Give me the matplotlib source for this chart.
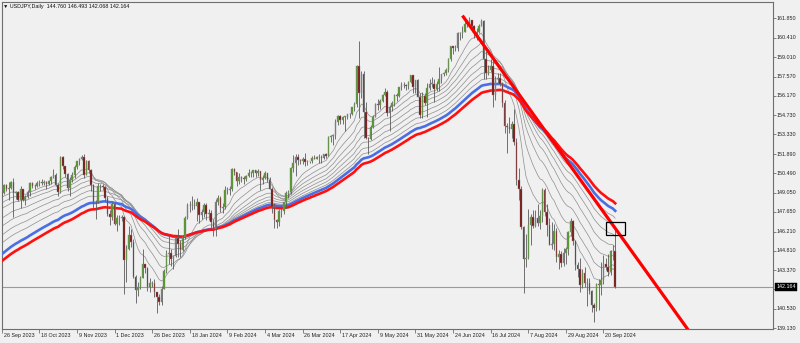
import numpy as np
import pandas as pd
import matplotlib
matplotlib.use("Agg")
import matplotlib.pyplot as plt
from matplotlib.patches import Rectangle

plt.rcParams['font.family'] = ['Liberation Sans', 'DejaVu Sans']

# ---------------- data: USDJPY daily, 26 Sep 2023 .. 27 Sep 2024 ----------------
opens = [
    148.87, 149.05, 149.64, 149.32,
    149.37, 149.86, 149.02, 149.13, 148.50,
    149.32, 148.52, 148.76, 149.12, 149.80,
    149.57, 149.53, 149.79, 149.87, 149.80,
    149.86, 149.70, 149.91, 150.21, 150.37,
    149.63, 149.09, 151.68, 150.98, 150.42,
    149.39, 149.97, 150.38, 150.96, 151.38,
    151.52, 151.65, 150.39, 151.38, 150.74,
    149.60, 148.35, 148.39, 149.55, 149.53,
    149.44, 148.67, 147.49, 147.24, 148.20,
    146.79, 147.20, 147.18, 147.28, 144.11,
    144.95, 145.96, 145.44, 142.89, 141.94,
    142.15, 142.82, 143.80, 143.53, 142.11,
    142.40, 142.44, 141.78, 141.39,
    141.02, 142.00, 143.30, 144.58,
    144.64, 144.20, 144.43, 145.71, 145.29,
    144.88, 145.80, 147.20, 148.16, 148.12,
    148.15, 148.11, 148.36, 147.45, 147.62,
    148.14, 147.49, 147.59, 146.92, 146.42,
    148.37, 148.68, 147.94, 147.99, 149.28,
    149.28, 149.35, 150.80, 150.55, 149.93,
    150.19, 150.15, 150.03, 150.29, 150.49,
    150.51, 150.69, 150.51, 150.66, 149.98,
    150.11, 150.52, 150.00, 149.36, 147.98,
    147.06, 146.93, 147.68, 147.75, 148.36,
    149.03, 149.14, 150.87, 151.25, 151.65,
    151.42, 151.40, 151.54, 151.33, 151.36,
    151.35, 151.63, 151.56, 151.68, 151.66,
    151.61, 151.86, 151.78, 153.16, 153.24,
    153.28, 154.26, 154.71, 154.38, 154.62,
    154.64, 154.81, 154.84, 155.33, 155.60,
    158.33, 156.36, 157.79, 155.00, 153.05,
    152.97, 153.88, 154.63, 155.58, 155.49,
    155.75, 156.21, 156.43, 154.87, 155.38,
    155.66, 156.24, 156.18, 156.78, 156.95,
    156.99, 156.88, 157.16, 157.66, 156.79,
    157.30, 156.10, 154.77, 156.13, 155.63,
    156.73, 157.05, 157.05, 156.66, 157.05,
    157.39, 157.73, 157.85, 158.09, 158.89,
    159.80, 159.69, 159.64, 160.74, 160.78,
    160.87, 161.47, 161.45, 161.73, 161.28,
    160.75, 160.82, 161.32, 161.64, 158.85,
    157.84, 158.05, 158.35, 156.21, 157.37,
    157.48, 157.02, 155.65, 153.92, 153.89,
    153.75, 154.08, 152.74, 149.98, 149.35,
    146.53, 144.18, 144.29, 146.72, 147.28,
    146.61, 147.19, 146.83, 147.32, 149.29,
    147.61, 146.66, 145.24, 145.26, 146.27,
    144.35, 144.54, 143.89, 144.61, 144.96,
    146.17, 146.95, 145.48, 143.72, 143.45,
    142.28, 143.16, 142.42, 142.43, 141.84,
    140.83, 140.62, 142.36, 142.29, 142.62,
    143.86, 143.58, 143.21, 144.78, 144.76,
]
highs = [
    149.18, 149.71, 149.71, 149.81,
    149.91, 150.16, 149.20, 149.19, 149.53,
    149.35, 148.90, 149.24, 149.83, 149.84,
    149.68, 149.89, 149.98, 150.07, 150.02,
    149.93, 150.00, 150.27, 150.78, 150.47,
    149.76, 151.72, 151.72, 151.05, 150.50,
    150.18, 150.55, 151.06, 151.40, 151.58,
    151.80, 151.92, 151.43, 151.44, 150.78,
    149.66, 148.51, 149.75, 149.68, 149.72,
    149.58, 148.83, 147.80, 148.34, 148.27,
    147.44, 147.43, 147.41, 147.32, 145.21,
    146.59, 146.43, 145.64, 143.00, 142.52,
    142.97, 144.96, 143.83, 143.58, 142.77,
    142.56, 142.76, 141.78, 141.61,
    142.21, 143.43, 144.83, 145.98,
    144.91, 144.46, 145.79, 146.41, 145.58,
    145.87, 147.34, 148.28, 148.48, 148.81,
    148.58, 148.70, 148.40, 147.85, 148.27,
    148.31, 147.85, 147.81, 147.11, 148.58,
    148.89, 148.80, 148.32, 149.58, 149.48,
    149.55, 150.89, 150.89, 150.59, 150.49,
    150.29, 150.28, 150.35, 150.77, 150.63,
    150.74, 150.72, 150.83, 150.66, 150.37,
    150.68, 150.53, 150.19, 149.44, 148.28,
    147.15, 147.89, 147.95, 148.37, 149.16,
    149.24, 150.95, 151.82, 151.86, 151.86,
    151.51, 151.66, 151.97, 151.44, 151.41,
    151.75, 151.79, 151.75, 151.90, 151.82,
    151.92, 151.94, 153.24, 153.32, 153.39,
    154.45, 154.79, 154.77, 154.72, 154.66,
    154.86, 154.88, 155.37, 155.74, 158.44,
    160.21, 157.99, 157.99, 155.70, 153.13,
    154.00, 154.74, 155.66, 155.95, 155.94,
    156.28, 156.74, 156.57, 155.46, 155.80,
    156.30, 156.39, 156.82, 157.20, 157.19,
    157.03, 157.24, 157.71, 157.68, 157.30,
    157.37, 156.40, 156.44, 156.36, 157.13,
    157.38, 157.51, 157.41, 157.24, 158.26,
    157.78, 157.93, 158.23, 158.94, 159.82,
    159.85, 159.86, 160.87, 160.87, 161.27,
    161.72, 161.75, 161.95, 161.76, 161.34,
    161.14, 161.44, 161.80, 161.76, 159.44,
    158.42, 158.87, 158.86, 157.65, 157.86,
    157.81, 157.15, 155.83, 154.16, 154.62,
    154.30, 155.22, 153.09, 150.89, 149.57,
    146.60, 145.99, 147.88, 147.51, 147.80,
    147.77, 148.22, 147.76, 149.39, 149.42,
    148.22, 147.23, 146.89, 146.76, 146.49,
    144.82, 144.81, 144.98, 145.07, 146.24,
    147.21, 147.05, 145.60, 144.00, 144.26,
    143.48, 143.57, 142.77, 142.83, 141.95,
    140.96, 142.45, 142.72, 143.95, 144.49,
    144.25, 144.54, 144.83, 145.21, 146.493,
]
lows = [
    148.80, 148.97, 149.18, 148.52,
    149.34, 147.31, 148.60, 148.45, 147.92,
    148.46, 148.16, 148.70, 148.85, 149.39,
    149.32, 149.46, 149.52, 149.63, 149.60,
    149.33, 149.60, 149.73, 150.10, 149.52,
    148.81, 149.02, 150.76, 150.21, 149.20,
    148.83, 149.86, 150.16, 150.82, 151.06,
    151.43, 150.16, 150.34, 150.53, 149.19,
    147.93, 147.15, 148.32, 149.17, 149.22,
    148.46, 147.38, 146.67, 147.09, 146.67,
    146.23, 146.68, 146.98, 141.64, 142.53,
    144.85, 145.08, 142.78, 140.97, 141.48,
    141.99, 142.77, 143.13, 141.87, 141.77,
    142.17, 141.38, 140.25, 140.84,
    140.80, 141.98, 143.19, 143.81,
    143.67, 143.44, 144.37, 144.36, 144.35,
    144.78, 145.69, 147.10, 147.64, 147.79,
    147.88, 146.98, 146.81, 147.12, 147.31,
    147.06, 147.02, 146.43, 145.90, 145.89,
    148.12, 147.63, 147.56, 147.87, 148.93,
    148.90, 149.21, 150.35, 149.56, 149.67,
    149.84, 149.69, 149.89, 150.22, 150.18,
    150.23, 150.19, 150.25, 149.22, 149.70,
    150.06, 149.82, 149.33, 147.60, 146.48,
    146.50, 146.62, 147.30, 147.53, 147.97,
    148.69, 148.97, 150.57, 150.26, 151.09,
    151.14, 151.19, 151.03, 151.08, 151.25,
    151.23, 151.52, 151.51, 151.26, 151.22,
    151.54, 151.60, 151.72, 152.76, 152.59,
    153.02, 154.06, 154.12, 154.13, 153.60,
    154.50, 154.55, 154.78, 155.07, 155.36,
    154.54, 156.02, 153.04, 152.99, 151.86,
    152.91, 153.82, 154.59, 155.12, 155.23,
    155.72, 156.14, 154.70, 153.60, 155.08,
    155.45, 155.81, 156.06, 156.61, 156.76,
    156.60, 156.70, 157.08, 156.37, 156.39,
    156.06, 154.55, 154.53, 155.47, 154.59,
    156.58, 156.81, 155.72, 156.55, 156.53,
    157.11, 157.59, 157.70, 157.89, 158.70,
    159.23, 159.46, 159.47, 160.28, 160.40,
    160.82, 161.22, 161.29, 161.06, 160.43,
    160.26, 160.75, 161.30, 157.43, 157.38,
    157.67, 157.93, 155.38, 155.83, 157.07,
    156.86, 155.36, 153.46, 151.94, 153.44,
    153.09, 152.58, 149.64, 148.51, 146.43,
    141.68, 143.62, 144.17, 145.21, 146.45,
    146.52, 146.61, 146.41, 146.89, 147.37,
    145.86, 145.19, 144.95, 144.86, 143.97,
    143.44, 143.61, 143.66, 143.81, 144.48,
    145.89, 145.24, 143.41, 142.89, 141.75,
    142.10, 142.12, 140.71, 141.63, 140.30,
    139.58, 140.41, 140.44, 141.52, 142.37,
    143.41, 142.91, 143.05, 144.11, 142.068,
]
closes = [
    149.05, 149.64, 149.32, 149.37,
    149.86, 149.02, 149.13, 148.50, 149.32,
    148.52, 148.76, 149.12, 149.80, 149.57,
    149.53, 149.79, 149.87, 149.80, 149.86,
    149.70, 149.91, 150.21, 150.37, 149.63,
    149.09, 151.68, 150.98, 150.42, 149.39,
    149.97, 150.38, 150.96, 151.38, 151.52,
    151.65, 150.39, 151.38, 150.74, 149.60,
    148.35, 148.39, 149.55, 149.53, 149.44,
    148.67, 147.49, 147.24, 148.20, 146.79,
    147.20, 147.18, 147.28, 144.11, 144.95,
    145.96, 145.44, 142.89, 141.94, 142.15,
    142.82, 143.80, 143.53, 142.11, 142.40,
    142.44, 141.78, 141.39, 141.02,
    142.00, 143.30, 144.58, 144.64,
    144.20, 144.43, 145.71, 145.29, 144.88,
    145.80, 147.20, 148.16, 148.12, 148.15,
    148.11, 148.36, 147.45, 147.62, 148.14,
    147.49, 147.59, 146.92, 146.42, 148.37,
    148.68, 147.94, 147.99, 149.28, 149.28,
    149.35, 150.80, 150.55, 149.93, 150.19,
    150.15, 150.03, 150.29, 150.49, 150.51,
    150.69, 150.51, 150.66, 149.98, 150.11,
    150.52, 150.00, 149.36, 147.98, 147.06,
    146.93, 147.68, 147.75, 148.36, 149.03,
    149.14, 150.87, 151.25, 151.65, 151.42,
    151.40, 151.54, 151.33, 151.36, 151.35,
    151.63, 151.56, 151.68, 151.66, 151.61,
    151.86, 151.78, 153.16, 153.24, 153.28,
    154.26, 154.71, 154.38, 154.62, 154.64,
    154.81, 154.84, 155.33, 155.60, 158.33,
    156.36, 157.79, 155.00, 153.05, 152.97,
    153.88, 154.63, 155.58, 155.49, 155.75,
    156.21, 156.43, 154.87, 155.38, 155.66,
    156.24, 156.18, 156.78, 156.95, 156.99,
    156.88, 157.16, 157.66, 156.79, 157.30,
    156.10, 154.77, 156.13, 155.63, 156.73,
    157.05, 157.05, 156.66, 157.05, 157.39,
    157.73, 157.85, 158.09, 158.89, 159.80,
    159.69, 159.64, 160.74, 160.78, 160.87,
    161.47, 161.45, 161.73, 161.28, 160.75,
    160.82, 161.32, 161.64, 158.85, 157.84,
    158.05, 158.35, 156.21, 157.37, 157.48,
    157.02, 155.65, 153.92, 153.89, 153.75,
    154.08, 152.74, 149.98, 149.35, 146.53,
    144.18, 144.29, 146.72, 147.28, 146.61,
    147.19, 146.83, 147.32, 149.29, 147.61,
    146.66, 145.24, 145.26, 146.27, 144.35,
    144.54, 143.89, 144.61, 144.96, 146.17,
    146.95, 145.48, 143.72, 143.45, 142.28,
    143.16, 142.42, 142.43, 141.84, 140.83,
    140.62, 142.36, 142.29, 142.62, 143.86,
    143.58, 143.21, 144.78, 144.77, 142.164,
]

# moving-average fan: periods and their values at the first bar
gray_periods = [12, 20, 28, 36, 44, 52, 60]
gray_seeds = [148.60, 148.20, 147.79, 147.05, 146.46, 145.80, 145.22]
blue_period, blue_seed = 68, 144.40
red_period, red_seed = 78, 143.90

# hand-drawn trend line and marker box (data coordinates: bar index, price)
trend_x = [196, 292.0]
trend_y = [162.05, 139.00]
box_x = [257.0, 265.0]
box_y = [145.93, 146.88]

date_labels = ["26 Sep 2023", "18 Oct 2023", "9 Nov 2023", "1 Dec 2023", "26 Dec 2023",
               "18 Jan 2024", "9 Feb 2024", "4 Mar 2024", "26 Mar 2024", "17 Apr 2024",
               "9 May 2024", "31 May 2024", "24 Jun 2024", "16 Jul 2024", "7 Aug 2024",
               "29 Aug 2024", "20 Sep 2024"]
date_label_bars = [0, 16, 32, 48, 64, 80, 96, 112, 128, 144, 160, 176, 192, 208, 224, 240, 256]
price_labels = [161.850, 160.410, 159.010, 157.570, 156.170, 154.730, 153.330, 151.890,
                150.490, 149.050, 147.650, 146.210, 144.810, 143.370, 141.970, 140.530, 139.130]
title = "\u25BC USDJPY,Daily  144.760 146.493 142.068 142.164"

# ---------------- figure ----------------
BG = "#F0F0F0"
fig = plt.figure(figsize=(8, 3.43), dpi=100, facecolor=BG)
ax = fig.add_axes([0.002125, 0.03936, 0.9645, 0.95568], facecolor=BG)

o = np.array(opens); h = np.array(highs); l = np.array(lows); c = np.array(closes)
x = np.arange(len(c))

ax.set_xlim(0.47, 328.25)
ax.set_ylim(139.02, 163.07)

# current price line
ax.axhline(c[-1], color="#9A9A9A", lw=0.8, zorder=1)

# moving averages
for p, s in zip(gray_periods, gray_seeds):
    m = pd.Series([s] + closes).ewm(span=p, adjust=False).mean().iloc[1:].values
    ax.plot(x, m, color="#8E8E8E", lw=0.5, zorder=2)
mb = pd.Series([blue_seed] + closes).ewm(span=blue_period, adjust=False).mean().iloc[1:].values
mr = pd.Series([red_seed] + closes).ewm(span=red_period, adjust=False).mean().iloc[1:].values
ax.plot(x, mb, color="#4A6FE3", lw=1.9, zorder=3)
ax.plot(x, mr, color="#FF1010", lw=1.9, zorder=3)

# candles
up = c >= o
ax.vlines(x, l, h, color="#5A5A5A", lw=0.6, zorder=4)
body_lo = np.minimum(o, c)
body_h = np.maximum(np.abs(c - o), 0.03)
cols = np.where(up, "#4E9A1E", "#7A0A0A")
ax.bar(x, body_h, bottom=body_lo, width=0.62, color=cols, edgecolor="#8A8A8A",
       linewidth=0.3, zorder=5)

# trend line and box
ax.plot(trend_x, trend_y, color="#FF0000", lw=2.3, zorder=6, solid_capstyle="butt")
ax.add_patch(Rectangle((box_x[0], box_y[0]), box_x[1] - box_x[0], box_y[1] - box_y[0],
                       fill=False, edgecolor="black", lw=0.9, zorder=7))

# frame
for sp in ax.spines.values():
    sp.set_color("#6E6E6E")
    sp.set_linewidth(0.8)

# y axis (right side)
ax.set_yticks(price_labels)
ax.set_yticklabels([])
ax.yaxis.tick_right()
ax.tick_params(axis="y", direction="out", length=2.2, width=0.5, color="#555555")
for v in price_labels:
    ax.annotate(f"{v:.3f}", xy=(1, v), xycoords=("axes fraction", "data"),
                xytext=(2.6, 0), textcoords="offset points", ha="left", va="center",
                fontsize=3.9, color="#222222", annotation_clip=False)
ax.annotate(f"{c[-1]:.3f}", xy=(1, c[-1]), xycoords=("axes fraction", "data"),
            xytext=(2.0, 0), textcoords="offset points", ha="left", va="center",
            fontsize=3.9, color="white", annotation_clip=False, zorder=10,
            bbox=dict(boxstyle="square,pad=0.25", fc="black", ec="black", lw=0.3))

# x axis dates
ax.set_xticks(date_label_bars)
ax.set_xticklabels([])
ax.tick_params(axis="x", direction="out", length=3.0, width=0.5, color="#555555")
for b, lab in zip(date_label_bars, date_labels):
    ax.annotate(lab, xy=(b, 0), xycoords=("data", "axes fraction"),
                xytext=(1.3, -2.2), textcoords="offset points", ha="left", va="top",
                fontsize=3.9, color="#222222", annotation_clip=False)

ax.text(0.0017, 0.986, title, transform=ax.transAxes, ha="left", va="center",
        fontsize=3.9, color="#111111", zorder=10)

fig.savefig("out.png", dpi=100, facecolor=BG)
